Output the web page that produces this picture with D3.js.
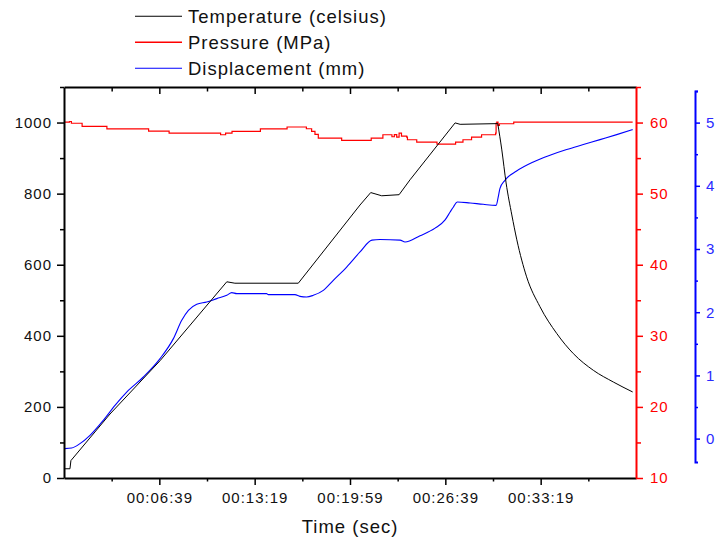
<!DOCTYPE html>
<html>
<head>
<meta charset="utf-8">
<script src="https://cdn.jsdelivr.net/npm/d3@7"></script>
<style>
  body { margin: 0; background: #fff; }
  text { font-family: "Liberation Sans", Arial, sans-serif; }
</style>
</head>
<body>
<svg id="chart" width="719" height="542"></svg>
<script>
// Temperature (celsius) vs elapsed seconds
const tempTime  = [0, 24, 28, 192, 402, 682, 716, 982, 1241, 1286, 1332, 1405, 1451, 1640, 1661, 1819, 1836, 1854, 1878, 1899, 1940, 1996, 2066, 2136, 2220, 2304, 2385];
const tempValue = [26, 26, 49, 180, 330, 552, 548, 548, 768, 803, 794, 797, 839, 999, 995, 997, 923, 830, 740, 670, 566, 482, 407, 350, 303, 270, 242];
// index where the furnace is switched off and cooling starts
const coolStart = 15;

// Pressure (MPa), recorded as steps
const pressTime  = [0, 22, 30, 75, 179, 354, 440, 656, 677, 704, 823, 935, 1016, 1038, 1052, 1066, 1164, 1288, 1337, 1375, 1385, 1395, 1405, 1415, 1437, 1440, 1479, 1564, 1642, 1673, 1709, 1751, 1810, 1812, 1815, 1820, 1826, 1886, 2385];
const pressValue = [60.05, 60.15, 59.9, 59.45, 59.1, 58.8, 58.5, 58.28, 58.5, 58.75, 59.1, 59.37, 59.13, 58.75, 58.35, 57.82, 57.48, 57.82, 58.28, 58.0, 58.3, 57.95, 58.5, 58.1, 57.96, 57.58, 57.25, 56.97, 57.25, 57.58, 57.96, 58.28, 58.52, 59.9, 60.05, 59.6, 59.83, 60.07, 60.07];

// Displacement (mm)
const dispTime  = [3, 31, 66, 108, 164, 213, 262, 332, 402, 458, 493, 521, 556, 598, 640, 682, 703, 724, 849, 856, 968, 989, 1017, 1045, 1087, 1129, 1185, 1241, 1291, 1325, 1409, 1430, 1493, 1556, 1598, 1619, 1633, 1649, 1703, 1758, 1812, 1821, 1828, 1849, 1898, 1968, 2038, 2108, 2178, 2248, 2318, 2385];
const dispValue = [-0.158, -0.149, -0.079, 0.052, 0.29, 0.527, 0.737, 0.975, 1.266, 1.582, 1.872, 2.03, 2.125, 2.161, 2.215, 2.267, 2.31, 2.294, 2.294, 2.278, 2.278, 2.25, 2.24, 2.267, 2.346, 2.505, 2.715, 2.953, 3.14, 3.15, 3.14, 3.11, 3.21, 3.33, 3.46, 3.585, 3.665, 3.744, 3.728, 3.707, 3.691, 3.823, 3.956, 4.087, 4.234, 4.377, 4.483, 4.573, 4.652, 4.731, 4.81, 4.889];

// Axis ticks
const timeTicks      = [399, 799, 1199, 1599, 1999];
const timeTickLabels = ["00:06:39", "00:13:19", "00:19:59", "00:26:39", "00:33:19"];
const timeMinorTicks = [199, 599, 999, 1399, 1799, 2199];
const tempTicks      = [0, 200, 400, 600, 800, 1000];
const tempMinorTicks = [100, 300, 500, 700, 900, 1100];
const pressTicks     = [10, 20, 30, 40, 50, 60];
const pressMinorTicks = [15, 25, 35, 45, 55, 65];
const dispTicks      = [0, 1, 2, 3, 4, 5];
const dispMinorTicks = [0.5, 1.5, 2.5, 3.5, 4.5, 5.5];

const seriesNames  = ["Temperature (celsius)", "Pressure (MPa)", "Displacement (mm)"];
const seriesColors = ["#000000", "#ff0000", "#0000ff"];

const svg = d3.select("#chart");
svg.append("rect").attr("width", 719).attr("height", 542).attr("fill", "#fff");

const plotLeft = 64, plotRight = 636, plotTop = 87, plotBottom = 478;

const x  = d3.scaleLinear().domain([-1, 2399]).range([plotLeft, plotRight]);
const yT = d3.scaleLinear().domain([0, 1100]).range([plotBottom, plotTop]);
const yP = d3.scaleLinear().domain([10, 65]).range([plotBottom, plotTop]);
const yD = d3.scaleLinear().domain([-0.37, 5.5]).range([462, 91]);

const tickFont = g => g.selectAll("text")
  .style("font-size", "15px")
  .style("letter-spacing", "1px");

// clip the data lines to the plot frame
svg.append("clipPath").attr("id", "plot-clip")
  .append("rect").attr("x", plotLeft).attr("y", plotTop)
  .attr("width", plotRight - plotLeft).attr("height", plotBottom - plotTop);

const plot = svg.append("g").attr("clip-path", "url(#plot-clip)");

// heating ramps are piecewise straight; the cooling tail is a smooth decay
const heatLine = d3.line().x(i => x(tempTime[i])).y(i => yT(tempValue[i]));
const coolLine = d3.line().curve(d3.curveMonotoneX).x(i => x(tempTime[i])).y(i => yT(tempValue[i]));
const pressLine = d3.line().curve(d3.curveStepAfter).x(i => x(pressTime[i])).y(i => yP(pressValue[i]));
const dispLine = d3.line().curve(d3.curveMonotoneX).x(i => x(dispTime[i])).y(i => yD(dispValue[i]));

plot.append("path").attr("d", pressLine(d3.range(pressTime.length)))
  .attr("fill", "none").attr("stroke", seriesColors[1]).attr("stroke-width", 1.2);
plot.append("path").attr("d", dispLine(d3.range(dispTime.length)))
  .attr("fill", "none").attr("stroke", seriesColors[2]).attr("stroke-width", 1.1);
plot.append("path").attr("d", heatLine(d3.range(0, coolStart + 1)))
  .attr("fill", "none").attr("stroke", seriesColors[0]).attr("stroke-width", 1);
plot.append("path").attr("d", coolLine(d3.range(coolStart, tempTime.length)))
  .attr("fill", "none").attr("stroke", seriesColors[0]).attr("stroke-width", 1);

// bottom time axis
const gx = svg.append("g").attr("transform", `translate(0,${plotBottom})`)
  .call(d3.axisBottom(x).tickValues(timeTicks).tickFormat((d, i) => timeTickLabels[i]).tickSize(7).tickPadding(7.5).tickSizeOuter(0));
gx.call(tickFont);
gx.selectAll("text").attr("fill", "#111");
svg.append("g").attr("transform", `translate(0,${plotBottom})`)
  .call(d3.axisBottom(x).tickValues(timeMinorTicks).tickFormat("").tickSize(3.5).tickSizeOuter(0))
  .select(".domain").remove();

// top frame with inward ticks
svg.append("g").attr("transform", `translate(0,${plotTop})`)
  .call(d3.axisTop(x).tickValues(timeTicks).tickFormat("").tickSize(-7).tickSizeOuter(0));
svg.append("g").attr("transform", `translate(0,${plotTop})`)
  .call(d3.axisTop(x).tickValues(timeMinorTicks).tickFormat("").tickSize(-4.5).tickSizeOuter(0))
  .select(".domain").remove();

// left temperature axis
const gl = svg.append("g").attr("transform", `translate(${plotLeft},0)`)
  .call(d3.axisLeft(yT).tickValues(tempTicks).tickFormat(d3.format("d")).tickSize(7).tickPadding(5).tickSizeOuter(0));
gl.call(tickFont);
gl.selectAll("text").attr("fill", "#111");
svg.append("g").attr("transform", `translate(${plotLeft},0)`)
  .call(d3.axisLeft(yT).tickValues(tempMinorTicks).tickFormat("").tickSize(4).tickSizeOuter(0))
  .select(".domain").remove();

// right pressure axis (red)
const gp = svg.append("g").attr("transform", `translate(${plotRight},0)`)
  .call(d3.axisRight(yP).tickValues(pressTicks).tickFormat(d3.format("d")).tickSize(7).tickPadding(7).tickSizeOuter(0));
gp.call(tickFont);
gp.selectAll("text").attr("fill", "#ff0000");
gp.selectAll("line, path").attr("stroke", "#ff0000");
const gpm = svg.append("g").attr("transform", `translate(${plotRight},0)`)
  .call(d3.axisRight(yP).tickValues(pressMinorTicks).tickFormat("").tickSize(5).tickSizeOuter(0));
gpm.select(".domain").remove();
gpm.selectAll("line").attr("stroke", "#ff0000");

// offset displacement axis (blue)
const gd = svg.append("g").attr("transform", `translate(695,0)`)
  .call(d3.axisRight(yD).tickValues(dispTicks).tickFormat(d3.format("d")).tickSize(5).tickPadding(6).tickSizeOuter(3));
gd.call(tickFont);
gd.selectAll("text").attr("fill", "#2a2aff");
gd.selectAll("line, path").attr("stroke", "#0000ff");
const gdm = svg.append("g").attr("transform", `translate(695,0)`)
  .call(d3.axisRight(yD).tickValues(dispMinorTicks).tickFormat("").tickSize(3).tickSizeOuter(0));
gdm.select(".domain").remove();
gdm.selectAll("line").attr("stroke", "#0000ff");

svg.selectAll(".domain").attr("stroke-width", 2);
svg.selectAll(".tick line").attr("stroke-width", 1.5);

// axis title
svg.append("text")
  .attr("x", (plotLeft + plotRight) / 2).attr("y", 533)
  .attr("text-anchor", "middle")
  .style("font-size", "18.5px").style("letter-spacing", "1px")
  .attr("fill", "#111")
  .text("Time (sec)");

// legend
const legend = svg.append("g");
seriesNames.forEach((name, i) => {
  const base = 23.3 + i * 26;
  legend.append("line")
    .attr("x1", 135).attr("x2", 182)
    .attr("y1", base - 7).attr("y2", base - 7)
    .attr("stroke", seriesColors[i]).attr("stroke-width", i === 1 ? 1.4 : 1.1);
  legend.append("text")
    .attr("x", 188).attr("y", base)
    .style("font-size", "18.5px").style("letter-spacing", "1px")
    .attr("fill", "#111")
    .text(name);
});
</script>
</body>
</html>
